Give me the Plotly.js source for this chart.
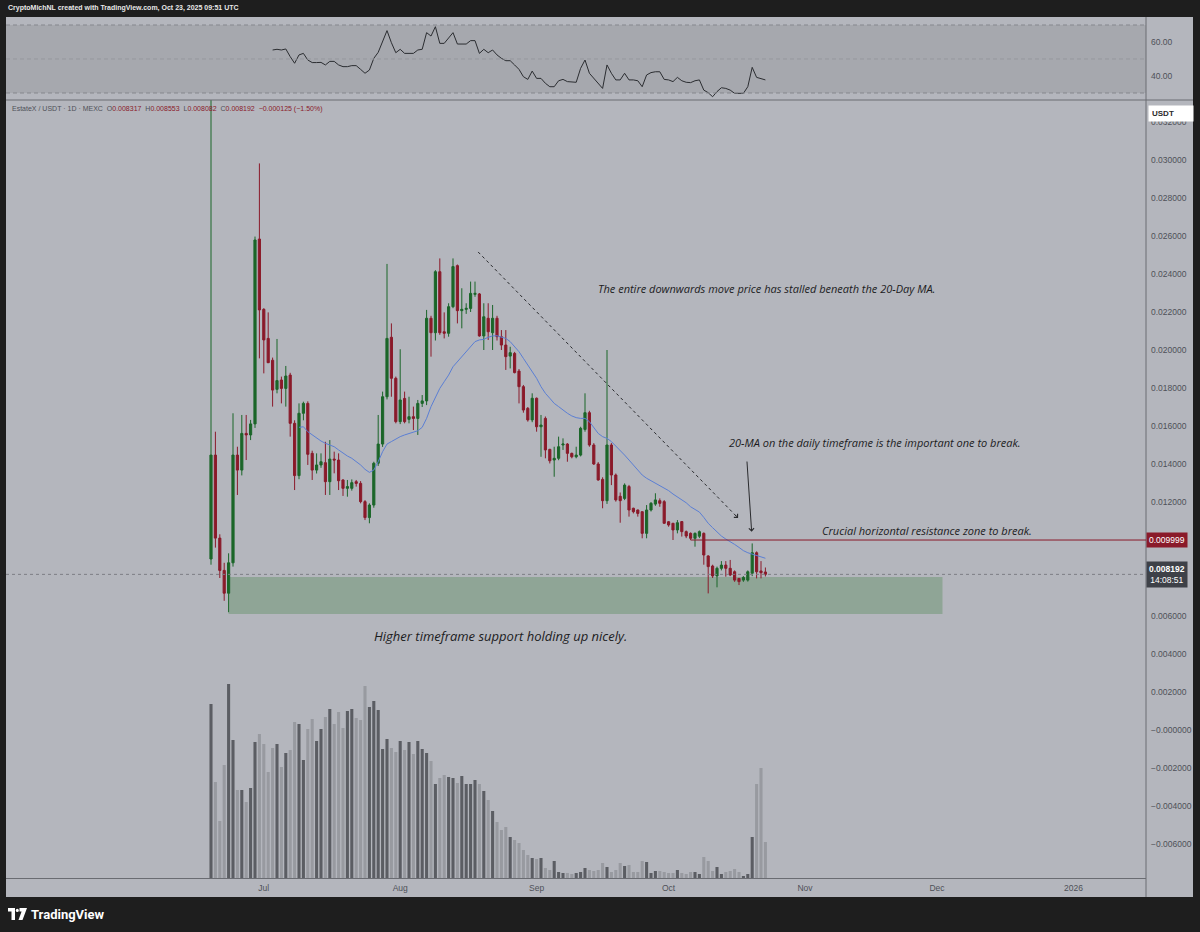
<!DOCTYPE html>
<html>
<head>
<meta charset="utf-8">
<script src="https://cdn.plot.ly/plotly-3.0.1.min.js"></script>
<style>
html,body{margin:0;padding:0;background:#1e1e1e;}
#chart{width:1200px;height:932px;}
</style>
</head>
<body>
<div id="chart"></div>
<script>
// ---------------- DATA ----------------
const dates = [
 '2025-06-19','2025-06-20','2025-06-21','2025-06-22','2025-06-23','2025-06-24','2025-06-25','2025-06-26','2025-06-27','2025-06-28','2025-06-29','2025-06-30',
 '2025-07-01','2025-07-02','2025-07-03','2025-07-04','2025-07-05','2025-07-06','2025-07-07','2025-07-08','2025-07-09','2025-07-10','2025-07-11','2025-07-12','2025-07-13','2025-07-14','2025-07-15','2025-07-16','2025-07-17','2025-07-18','2025-07-19','2025-07-20','2025-07-21','2025-07-22','2025-07-23','2025-07-24','2025-07-25','2025-07-26','2025-07-27','2025-07-28','2025-07-29','2025-07-30','2025-07-31',
 '2025-08-01','2025-08-02','2025-08-03','2025-08-04','2025-08-05','2025-08-06','2025-08-07','2025-08-08','2025-08-09','2025-08-10','2025-08-11','2025-08-12','2025-08-13','2025-08-14','2025-08-15','2025-08-16','2025-08-17','2025-08-18','2025-08-19','2025-08-20','2025-08-21','2025-08-22','2025-08-23','2025-08-24','2025-08-25','2025-08-26','2025-08-27','2025-08-28','2025-08-29','2025-08-30','2025-08-31',
 '2025-09-01','2025-09-02','2025-09-03','2025-09-04','2025-09-05','2025-09-06','2025-09-07','2025-09-08','2025-09-09','2025-09-10','2025-09-11','2025-09-12','2025-09-13','2025-09-14','2025-09-15','2025-09-16','2025-09-17','2025-09-18','2025-09-19','2025-09-20','2025-09-21','2025-09-22','2025-09-23','2025-09-24','2025-09-25','2025-09-26','2025-09-27','2025-09-28','2025-09-29','2025-09-30',
 '2025-10-01','2025-10-02','2025-10-03','2025-10-04','2025-10-05','2025-10-06','2025-10-07','2025-10-08','2025-10-09','2025-10-10','2025-10-11','2025-10-12','2025-10-13','2025-10-14','2025-10-15','2025-10-16','2025-10-17','2025-10-18','2025-10-19','2025-10-20','2025-10-21','2025-10-22','2025-10-23'
];

const open = [
 0.0090,0.01447,0.0101,0.0084,0.0072,0.0088,0.01447,0.01368,0.01561,0.01553,0.01611,0.02584,
 0.02214,0.02061,0.01946,0.01793,0.01842,0.01798,0.01868,0.01614,0.01339,0.01667,0.01719,0.01456,0.01368,0.01395,0.01407,0.01307,0.01426,0.01421,0.01316,0.01272,0.01272,0.01307,0.01298,0.01202,0.01118,0.01184,0.01404,0.01505,0.01754,0.02067,0.01851,
 0.01623,0.01745,0.01635,0.01649,0.0164,0.01719,0.01732,0.02167,0.02091,0.02412,0.02096,0.02088,0.02228,0.02444,0.02207,0.02214,0.02219,0.02293,0.02295,0.02074,0.02167,0.02091,0.02167,0.0207,0.02026,0.01968,0.01982,0.01889,0.01807,
 0.01693,0.01632,0.01746,0.01596,0.0164,0.01477,0.01421,0.0143,0.0150,0.01505,0.01456,0.01438,0.01447,0.01582,0.0167,0.0150,0.0140,0.01319,0.01207,0.0150,0.01342,0.0123,0.01219,0.01281,0.01167,0.01158,0.01149,0.01035,0.01158,0.01189,0.01207,0.01202,
 0.01096,0.01088,0.01053,0.01097,0.01044,0.01035,0.01009,0.0102,0.01035,0.00916,0.00863,0.00811,0.00851,0.00868,0.00851,0.00833,0.00798,0.00789,0.00789,0.00825,0.00933,0.00837,0.008317
];
const high = [
 0.0335,0.0157,0.0103,0.0088,0.0093,0.01667,0.01491,0.01658,0.01658,0.01632,0.02597,0.02982,
 0.0222,0.02198,0.0196,0.02058,0.0186,0.01916,0.0188,0.0163,0.01719,0.01728,0.0173,0.0147,0.01456,0.01456,0.01517,0.01526,0.01465,0.01456,0.0132,0.01316,0.01319,0.01316,0.0131,0.0121,0.01193,0.01412,0.01658,0.01781,0.02453,0.0214,0.0186,
 0.02004,0.01781,0.01754,0.01702,0.01737,0.01763,0.02211,0.0218,0.0242,0.02482,0.02198,0.02246,0.02482,0.0245,0.02325,0.02246,0.0236,0.0236,0.0230,0.02246,0.02246,0.02237,0.0218,0.02105,0.02105,0.02017,0.0199,0.0190,0.01816,
 0.0170,0.01772,0.0175,0.01658,0.0165,0.0148,0.01491,0.01544,0.01535,0.0151,0.0146,0.01491,0.01596,0.01772,0.0168,0.0151,0.0141,0.0133,0.0200,0.0151,0.0135,0.0125,0.01298,0.0129,0.0117,0.0116,0.0115,0.01184,0.0120,0.01246,0.01219,0.0121,
 0.0110,0.0109,0.01105,0.0110,0.0105,0.0104,0.0104,0.0105,0.0104,0.0092,0.0087,0.0086,0.00889,0.00889,0.00895,0.0084,0.0080,0.0081,0.0084,0.00982,0.0094,0.00889,0.008553
];
const low = [
 0.0087,0.0096,0.0080,0.0068,0.0062,0.0086,0.01237,0.0134,0.01421,0.01526,0.0159,0.01956,
 0.01877,0.0195,0.01702,0.01772,0.01719,0.01702,0.01544,0.01263,0.0132,0.0163,0.01395,0.01316,0.0135,0.0138,0.01237,0.01237,0.01351,0.01263,0.01232,0.01228,0.0126,0.01281,0.01193,0.01105,0.01088,0.0117,0.0139,0.0149,0.0174,0.01754,0.01614,
 0.0161,0.01614,0.01614,0.01579,0.01553,0.0170,0.0171,0.01965,0.0205,0.0208,0.02061,0.0207,0.0222,0.0214,0.02114,0.0219,0.0220,0.0228,0.0207,0.0200,0.02053,0.0200,0.0205,0.0200,0.01895,0.01903,0.01877,0.01719,0.0167,
 0.01623,0.0162,0.0157,0.01438,0.0143,0.01403,0.01333,0.0142,0.01474,0.01412,0.0143,0.0143,0.0144,0.0157,0.01491,0.01395,0.01312,0.01167,0.0119,0.01289,0.01202,0.01091,0.0121,0.01123,0.0114,0.01123,0.01009,0.01009,0.0115,0.0118,0.01175,0.01085,
 0.0107,0.0100,0.01035,0.01018,0.0101,0.0100,0.00965,0.0101,0.0087,0.00719,0.0080,0.00751,0.0084,0.00807,0.0081,0.0078,0.00763,0.0078,0.00781,0.0081,0.00798,0.00798,0.008082
];
const close = [
 0.01447,0.0101,0.0084,0.0072,0.0088,0.01447,0.01368,0.01561,0.01553,0.01611,0.02579,0.02211,
 0.02053,0.01933,0.01789,0.01839,0.01798,0.01863,0.01614,0.01339,0.01667,0.01719,0.01451,0.01368,0.01395,0.01412,0.01307,0.01426,0.01421,0.01312,0.01272,0.01281,0.01302,0.01298,0.01202,0.01118,0.01184,0.01404,0.01505,0.01754,0.02061,0.01851,0.01623,
 0.01737,0.01623,0.01649,0.0164,0.01719,0.01732,0.02167,0.02091,0.02412,0.02091,0.02088,0.02228,0.02439,0.02207,0.02214,0.02219,0.02298,0.02298,0.02074,0.02175,0.02096,0.02167,0.0207,0.02026,0.01965,0.01986,0.01881,0.01807,0.01684,
 0.01632,0.01746,0.01596,0.01605,0.01474,0.01417,0.0143,0.01491,0.01505,0.01456,0.01438,0.01447,0.01588,0.0167,0.0150,0.0140,0.01316,0.01207,0.0150,0.01342,0.01211,0.01207,0.01289,0.01158,0.01149,0.0114,0.01035,0.01158,0.01193,0.01211,0.01193,0.01088,
 0.01079,0.01053,0.01091,0.01044,0.01021,0.01009,0.01035,0.01044,0.00921,0.0086,0.00811,0.00851,0.00868,0.00851,0.00816,0.00789,0.00781,0.00803,0.00833,0.00933,0.00833,0.00828,0.008192
];
const volume = [
 174,96,57,113,194,138,88,88,76,90,136,144,
 134,106,130,134,111,125,128,156,154,118,149,159,137,149,161,169,154,166,150,167,169,160,158,192,171,177,168,129,139,130,126,
 137,128,136,124,137,129,125,117,94,100,103,101,100,95,102,94,94,98,94,87,78,67,56,48,51,41,38,35,28,
 23,20,19,20,10,8,17,6,5,5,4,5,6,10,8,7,8,15,11,6,8,15,12,13,6,6,17,16,5,7,7,6,
 5,5,8,5,4,6,6,4,21,17,7,11,4,6,7,9,6,2,4,41,94,110,36
];
const ma20 = [
 null,null,null,null,null,null,null,null,null,null,null,null,
 null,null,null,null,null,null,null,null,0.01593,0.01596,0.0157,0.01553,0.01535,0.01521,0.01509,0.0150,0.01491,0.01474,0.01456,0.01442,0.0143,0.01412,0.01395,0.01372,0.01356,0.01368,0.01412,0.01465,0.01505,0.01518,0.01532,
 0.01544,0.01553,0.01561,0.01568,0.01575,0.01593,0.0164,0.01702,0.01754,0.01798,0.01833,0.01868,0.01912,0.01939,0.01965,0.01991,0.02014,0.02044,0.02053,0.02056,0.02067,0.02074,0.02075,0.0207,0.02061,0.02044,0.02018,0.01991,0.01956,
 0.01921,0.01886,0.01851,0.01807,0.01772,0.01746,0.01719,0.01702,0.01684,0.01667,0.01653,0.01644,0.0164,0.0164,0.01623,0.01593,0.01561,0.01544,0.01535,0.01518,0.01495,0.01474,0.01447,0.01421,0.01395,0.01368,0.01342,0.01325,0.01312,0.01302,0.01289,0.01275,
 0.0126,0.01242,0.01228,0.01214,0.01196,0.01175,0.01161,0.01147,0.01119,0.01088,0.01065,0.01042,0.01021,0.01005,0.00993,0.00977,0.00961,0.00944,0.00933,0.00925,0.00918,0.00911,0.00904
];
const rsi = [
 null,null,null,null,null,null,null,null,null,null,null,null,
 null,null,55.3,55.7,55.3,55.9,51.4,47.5,52.4,53.3,49.4,47.9,47.9,48.0,46.5,48.6,48.6,46.5,45.5,45.5,46.1,46.1,43.9,41.6,43.5,50.4,53.9,60.2,66.7,59.6,53.7,
 55.7,53.3,53.3,53.3,55.3,55.7,65.5,63.5,69.0,59.2,59.2,62.2,65.5,58.8,58.8,58.8,60.8,60.8,53.3,55.7,53.7,55.3,52.4,50.4,49.0,49.0,46.5,43.9,39.6,
 38.0,42.9,38.6,38.6,35.7,33.7,33.7,37.2,38.0,36.7,36.3,36.3,44.5,49.4,41.6,38.6,35.7,32.7,46.5,41.6,37.7,37.7,41.6,37.7,37.7,37.2,33.7,40.6,42.0,42.5,42.5,38.0,
 37.7,36.7,39.2,37.2,36.3,36.1,37.2,37.7,31.7,30.2,27.8,30.8,33.1,32.7,31.7,29.8,29.8,29.8,33.7,45.1,39.2,38.6,37.7
];
const monthTicks = ['2025-07-01','2025-08-01','2025-09-01','2025-10-01','2025-11-01','2025-12-01','2026-01-01'];
const monthLabels = ['Jul','Aug','Sep','Oct','Nov','Dec','2026'];
const priceTicks = [0.032,0.030,0.028,0.026,0.024,0.022,0.020,0.018,0.016,0.014,0.012,0.006,0.004,0.002,0,-0.002,-0.004,-0.006];
const rsiTicks = [60,40];
const resistance = 0.009999;
const lastPrice = 0.008192;
const supportLow = 0.0061, supportHigh = 0.00805;

// ---------------- helpers (pixel -> paper for decorations) ----------------
const PL = 6, PR = 1146, PT = 17, PB = 878;
function px(x){ return (x - PL) / (PR - PL); }
function py(y){ return (PB - y) / (PB - PT); }
const splitY = py(100);

const GREEN = '#1b6629', RED = '#8a1a2a';
const BG = '#b4b6bd', TXT = '#4e5158';

const volColors = close.map((c,i)=> c >= open[i] ? '#5b5d63' : '#989aa0');
const priceText = priceTicks.map(v => v <= 0 ? '\u2212' + Math.abs(v).toFixed(6) : v.toFixed(6));

const traces = [
 {type:'bar', x:dates, y:volume, xaxis:'x', yaxis:'y3', marker:{color:volColors, line:{width:0}}, hoverinfo:'skip'},
 {type:'candlestick', x:dates, open:open, high:high, low:low, close:close, xaxis:'x', yaxis:'y',
  increasing:{line:{color:GREEN,width:1}, fillcolor:GREEN},
  decreasing:{line:{color:RED,width:1}, fillcolor:RED},
  whiskerwidth:0, hoverinfo:'skip'},
 {type:'scatter', mode:'lines', x:dates, y:ma20, xaxis:'x', yaxis:'y', line:{color:'#5b7fd4', width:1}, hoverinfo:'skip'},
 {type:'scatter', mode:'lines', x:dates, y:rsi, xaxis:'x', yaxis:'y2', line:{color:'#2b2d31', width:1}, hoverinfo:'skip'}
];

const F = 'Liberation Sans, Arial, sans-serif';
const annF = {family:'Open Sans, DejaVu Sans, sans-serif', size:11, color:'#1c1c1e', style:'italic'};

const shapes = [
 // panel background
 {type:'rect', xref:'paper', yref:'paper', x0:px(6), x1:px(1193), y0:py(897), y1:py(17), fillcolor:BG, line:{width:0}, layer:'below'},
 // RSI band
 {type:'rect', xref:'paper', yref:'y2', x0:0, x1:1, y0:30, y1:70, fillcolor:'#a6a8ae', line:{width:0}, layer:'below'},
 {type:'line', xref:'paper', yref:'y2', x0:0, x1:1, y0:70, y1:70, line:{color:'#85878d', width:1, dash:'4px,3px'}},
 {type:'line', xref:'paper', yref:'y2', x0:0, x1:1, y0:50, y1:50, line:{color:'#95979d', width:1, dash:'4px,3px'}},
 {type:'line', xref:'paper', yref:'y2', x0:0, x1:1, y0:30, y1:30, line:{color:'#85878d', width:1, dash:'4px,3px'}},
 // pane separators
 {type:'line', xref:'paper', yref:'paper', x0:px(6), x1:px(1193), y0:splitY, y1:splitY, line:{color:'#6a6c72', width:1}},
 {type:'line', xref:'paper', yref:'paper', x0:1, x1:1, y0:py(897), y1:py(17), line:{color:'#6a6c72', width:1}},
 // support zone
 {type:'rect', xref:'x', yref:'y', x0:'2025-06-23', x1:'2025-12-02 06:00', y0:supportLow, y1:supportHigh, fillcolor:'#8fa596', line:{width:0}, layer:'below'},
 // last price dotted line
 {type:'line', xref:'paper', yref:'y', x0:0, x1:1, y0:lastPrice, y1:lastPrice, line:{color:'#7c7e85', width:1, dash:'dot'}},
 // resistance line
 {type:'line', xref:'x', yref:'y', x0:'2025-10-06', x1:'2026-01-17 12:00', y0:resistance, y1:resistance, line:{color:RED, width:1}},
 // dashed trend line
 {type:'line', xref:'x', yref:'y', x0:'2025-08-18 17:00', x1:'2025-10-16 19:00', y0:0.02516, y1:0.01116, line:{color:'#2a2b2e', width:1, dash:'3px,3px'}},
 // TradingView logo
 {type:'path', xref:'paper', yref:'paper', path:`M${px(8)},${py(908)} L${px(15)},${py(908)} L${px(15)},${py(920)} L${px(11.5)},${py(920)} L${px(11.5)},${py(911.5)} L${px(8)},${py(911.5)} Z`, fillcolor:'#ffffff', line:{width:0}},
 {type:'circle', xref:'paper', yref:'paper', x0:px(15.8), x1:px(18.8), y0:py(912), y1:py(908.8), fillcolor:'#ffffff', line:{width:0}},
 {type:'path', xref:'paper', yref:'paper', path:`M${px(19.5)},${py(908)} L${px(27)},${py(908)} L${px(22.5)},${py(920)} L${px(18.5)},${py(920)} L${px(21.6)},${py(911.5)} L${px(19.5)},${py(911.5)} Z`, fillcolor:'#ffffff', line:{width:0}}
];

const annotations = [
 {xref:'paper', yref:'paper', x:px(6), y:py(8.5), xanchor:'left', yanchor:'middle', showarrow:false,
  text:'<b>CryptoMichNL created with TradingView.com, Oct 23, 2025 09:51 UTC</b>', font:{family:F, size:7, color:'#e8e8e8'}},
 {xref:'paper', yref:'paper', x:px(10), y:py(109), xanchor:'left', yanchor:'middle', showarrow:false,
  text:'EstateX / USDT \u00b7 1D \u00b7 MEXC  O<span style="color:'+RED+'">0.008317</span>  H<span style="color:'+RED+'">0.008553</span>  L<span style="color:'+RED+'">0.008082</span>  C<span style="color:'+RED+'">0.008192</span>  <span style="color:'+RED+'">\u22120.000125 (\u22121.50%)</span>',
  font:{family:F, size:7, color:TXT}},
 {xref:'paper', yref:'paper', x:px(1148), y:py(113.5), xanchor:'left', yanchor:'middle', showarrow:false,
  text:'<b>USDT</b>', bgcolor:'#ffffff', borderpad:3, width:38, align:'left', font:{family:F, size:8, color:'#2a2a2a'}},
 {xref:'paper', yref:'y', x:1, y:resistance, xanchor:'left', yanchor:'middle', showarrow:false,
  text:'0.009999', bgcolor:RED, borderpad:2, font:{family:F, size:8.5, color:'#ffffff'}},
 {xref:'paper', yref:'y', x:1, y:lastPrice, xanchor:'left', yanchor:'middle', showarrow:false,
  text:'<b>0.008192</b><br>14:08:51', bgcolor:'#3e4148', borderpad:2, font:{family:F, size:8.5, color:'#ffffff'}},
 {xref:'paper', yref:'paper', x:px(596), y:py(288), xanchor:'left', yanchor:'middle', showarrow:false,
  text:'The entire downwards move price has stalled beneath the 20-Day MA.', font:annF},
 {xref:'paper', yref:'paper', x:px(727), y:py(442), xanchor:'left', yanchor:'middle', showarrow:false,
  text:'20-MA on the daily timeframe is the important one to break.', font:annF},
 {xref:'paper', yref:'paper', x:px(820), y:py(530), xanchor:'left', yanchor:'middle', showarrow:false,
  text:'Crucial horizontal resistance zone to break.', font:annF},
 {xref:'paper', yref:'paper', x:px(372), y:py(636), xanchor:'left', yanchor:'middle', showarrow:false,
  text:'Higher timeframe support holding up nicely.', font:Object.assign({}, annF, {size:13})},
 // arrows
 {xref:'x', yref:'y', x:'2025-10-19 21:00', y:0.01044, axref:'x', ayref:'y', ax:'2025-10-18 19:00', ay:0.01421,
  showarrow:true, arrowhead:4, arrowsize:1, arrowwidth:1, arrowcolor:'#2a2b2e', text:''},
 {xref:'x', yref:'y', x:'2025-10-16 19:00', y:0.01116, axref:'x', ayref:'y', ax:'2025-10-15 19:00', ay:0.01140,
  showarrow:true, arrowhead:4, arrowsize:1, arrowwidth:1, arrowcolor:'#2a2b2e', text:''},
 // logo text
 {xref:'paper', yref:'paper', x:px(29), y:py(914), xanchor:'left', yanchor:'middle', showarrow:false,
  text:'<b>TradingView</b>', font:{family:'Roboto, sans-serif', size:13, color:'#ffffff'}}
];

const layout = {
 width:1200, height:932,
 margin:{l:PL, r:1200-PR, t:PT, b:932-PB, pad:0},
 paper_bgcolor:'#1e1e1e', plot_bgcolor:BG,
 showlegend:false, bargap:0.3, boxgap:0.3,
 xaxis:{type:'date', range:['2025-05-03 09:50','2026-01-17 12:00'], rangeslider:{visible:false},
  tickmode:'array', tickvals:monthTicks, ticktext:monthLabels, ticks:'', ticklabelstandoff:2,
  tickfont:{family:F, size:8.5, color:TXT}, showgrid:false, zeroline:false,
  showline:true, linecolor:'#6a6c72', linewidth:1, anchor:'y', fixedrange:true},
 yaxis:{domain:[0, splitY], range:[-0.007789, 0.033158], side:'right', anchor:'x',
  tickmode:'array', tickvals:priceTicks, ticktext:priceText, ticks:'', ticklabelstandoff:4,
  tickfont:{family:F, size:8.5, color:TXT}, showgrid:false, zeroline:false, showline:false, fixedrange:true},
 yaxis2:{domain:[splitY, 1], range:[25.88, 74.71], side:'right', anchor:'x',
  tickmode:'array', tickvals:rsiTicks, ticktext:['60.00','40.00'], ticks:'', ticklabelstandoff:4,
  tickfont:{family:F, size:8.5, color:TXT}, showgrid:false, zeroline:false, showline:false, fixedrange:true},
 yaxis3:{overlaying:'y', range:[0, 778], visible:false, anchor:'x', side:'left', fixedrange:true},
 shapes:shapes,
 annotations:annotations
};

Plotly.newPlot('chart', traces, layout, {staticPlot:true, displayModeBar:false});
</script>
</body>
</html>
